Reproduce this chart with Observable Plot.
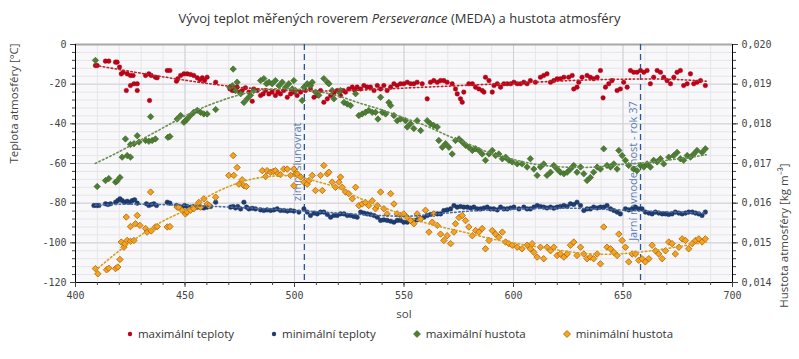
<!DOCTYPE html>
<html><head><meta charset="utf-8">
<script src="https://cdn.jsdelivr.net/npm/d3@7"></script>
<script src="https://cdn.jsdelivr.net/npm/@observablehq/plot@0.6"></script>
<style>
body{margin:0;background:#fff;}
#wrap{position:relative;width:799px;height:359px;overflow:hidden;font-family:"Open Sans",sans-serif;}
#title{position:absolute;top:9px;left:0;width:799px;text-align:center;font-size:13px;color:#333;}
#chart{position:absolute;top:36px;left:0;}
#legend{position:absolute;top:326px;left:0;width:799px;display:flex;justify-content:center;gap:36px;font-size:11.5px;color:#333;}
#legend span{display:flex;align-items:center;gap:4px;}
</style></head>
<body><div id="wrap">
<div id="title">Vývoj teplot měřených roverem <i>Perseverance</i> (MEDA) a hustota atmosféry</div>
<div id="chart"></div>
<div id="legend"></div>
</div>
<script>
// [sol, °C]
const maxTemp = [[409.1,-10.6],[409.9,-10.6],[413.7,-8.4],[415.2,-8.4],[418.3,-8.9],[419,-8.9],[420.1,-11.4],[420.9,-14.8],[421.8,-14],[423.6,-14.8],[425.1,-15.6],[426.3,-15.6],[423.2,-23.2],[425.1,-20.7],[426.7,-19.8],[428.2,-19.8],[428.2,-23.2],[432,-15.6],[433.5,-14.8],[434.6,-15.6],[436.5,-16.5],[437.3,-16.8],[433.8,-28.2],[441.9,-13.1],[443.1,-13.1],[446.1,-18.5],[446.7,-17.3],[448,-15.6],[449.5,-14.8],[451,-14.8],[452.5,-15.1],[454,-15.6],[455.6,-16.8],[456.8,-17.8],[457.9,-16.8],[458.9,-18.2],[460.1,-16.5],[464,-19],[470.5,-22.4],[471.6,-23.2],[472.6,-23.2],[473.8,-21.5],[475,-24],[476.1,-23.2],[477.6,-21.8],[479.2,-24],[480.7,-28.6],[481.4,-22.4],[483,-23.2],[484.5,-25.7],[485.7,-24.9],[486.8,-23.2],[488.3,-24.9],[489.8,-24],[491.3,-25.7],[492.4,-24],[493.6,-24.9],[495.1,-23.2],[496.7,-26.6],[498.2,-24.9],[499.7,-24],[501.2,-25.7],[502.8,-24],[505,-23.2],[507.3,-22.4],[508.9,-26.6],[510.4,-25.7],[511.9,-23.2],[513.4,-29.1],[515,-27.4],[516.5,-25.7],[518,-24.5],[519.5,-23.2],[521,-25.7],[522.2,-23.2],[523.3,-24],[524.8,-22.4],[526.4,-21.5],[527.4,-22.9],[528.6,-21.5],[530.2,-22.4],[531.7,-20.7],[533.2,-21.5],[534.7,-21.5],[536.3,-23.2],[537.8,-20.7],[539.3,-22.4],[540.8,-20.7],[542.3,-23.2],[543.9,-21.5],[545.4,-19.8],[546.9,-20.7],[548.4,-19.8],[549.9,-19.8],[551.5,-19],[553,-19.8],[554.5,-19.8],[556,-19],[558.3,-19.8],[560.6,-27.4],[562.1,-19],[563.6,-18.2],[565.2,-19],[566.7,-18.2],[568.2,-18.2],[569.7,-19],[572,-19.8],[573.5,-22.4],[574.3,-24.9],[575.8,-27.4],[576.6,-29.1],[577.3,-24],[579.6,-19.8],[581.2,-19.8],[582.7,-21.5],[584.2,-22.4],[585.7,-23.2],[586.5,-24],[587.2,-16.5],[588.8,-18.2],[590.3,-24],[591.1,-20.7],[592.6,-19.8],[594.1,-21.5],[595.6,-19.8],[597.1,-19.8],[598.7,-19.8],[600.2,-19],[601.7,-19.8],[603.2,-19.8],[604.7,-19],[606.2,-19.8],[607.7,-18.2],[610,-19],[612.3,-16.5],[613.8,-15.6],[615.3,-14.8],[616.9,-19],[618.4,-18.2],[619.9,-17.3],[621.4,-17.3],[623,-16.5],[625.2,-16.5],[626.8,-15.6],[627.5,-22.4],[629,-21.5],[629.8,-19],[631.3,-16.5],[633.6,-15.6],[635.1,-16.5],[636.6,-17.3],[638.2,-16.5],[639.7,-13.1],[640.9,-26.9],[642,-21.5],[643.5,-19.8],[645,-18.2],[647.3,-23.2],[648.8,-22.4],[650.3,-19],[651.9,-21.5],[653.4,-13.1],[654.9,-14],[656.4,-14],[658,-13.1],[659.5,-14],[661,-13.1],[662.5,-19.8],[664,-16.5],[665.6,-13.1],[667.1,-14],[668.6,-16.5],[670.1,-18.2],[671.7,-19.8],[673.2,-16.5],[674.7,-14],[676.2,-13.1],[677.7,-20.7],[679.3,-19.8],[680.8,-14.8],[682.3,-19.8],[683.8,-19],[685.4,-18.2],[687.6,-20.7]];

const minTemp = [[408.4,-81.2],[409.6,-81.2],[410.7,-81.2],[413.7,-80.3],[414.8,-80.7],[416,-80.3],[418.3,-79.5],[419.3,-78.7],[420.3,-77.8],[421.3,-78.7],[422.4,-79.5],[423.6,-79],[424.8,-79.5],[425.9,-78.7],[427,-78.3],[428.2,-80],[432.4,-80.3],[433.5,-81.2],[434.6,-80.7],[435.8,-80.3],[437,-81.2],[441.9,-79.5],[443.1,-80],[446.1,-81.2],[447.2,-81.7],[448.7,-82],[449.8,-81.2],[451,-81.7],[452.5,-82],[454,-81.7],[455.6,-82],[457.1,-82],[458.6,-82.4],[460.1,-82],[461.7,-81.7],[464,-79.5],[470.8,-82],[472,-81.7],[473.1,-82.4],[474.1,-81.7],[475.4,-82.9],[476.9,-79.5],[478.1,-82],[479.2,-82.9],[480.7,-82.6],[482.2,-82.9],[484.5,-83.4],[486,-83.7],[487.5,-83.4],[489.1,-83.7],[490.6,-83.4],[492.1,-82.9],[493.6,-83.7],[495.2,-83.7],[496.7,-84],[498.2,-83.7],[499.7,-84],[502,-84.5],[504.3,-82.9],[505.8,-84.5],[507.3,-86.2],[508.9,-85],[510.4,-85.4],[511.9,-84.5],[513.4,-84.5],[515,-85.7],[516.5,-87.1],[518,-86.2],[519.5,-86.2],[521,-85.4],[522.6,-85.4],[524.1,-86.2],[525.6,-86.2],[527.1,-86.7],[528.6,-87.1],[530.2,-84.5],[531.7,-85],[533.2,-85.4],[534.7,-85.7],[536.3,-86.2],[537.8,-87.1],[539.3,-88.7],[540.8,-88.4],[542.3,-88.7],[543.9,-89.1],[545.4,-89.6],[546.9,-88.7],[548.4,-88.7],[549.9,-89.6],[551.5,-89.6],[553,-88.7],[554.5,-88.7],[556,-88.4],[557.6,-87.9],[559.1,-87.1],[560.6,-86.2],[562.1,-85.7],[563.6,-85.4],[565.2,-85.4],[566.7,-85.4],[568.2,-83.7],[569.7,-83.4],[571.3,-82.9],[572.8,-81.2],[574.3,-82],[575.8,-81.7],[577.3,-82],[578.9,-82],[580.4,-82.4],[581.9,-82],[583.4,-82.9],[585,-82.9],[586.5,-82.4],[588,-82],[589.5,-82.9],[591,-82.9],[592.6,-83.4],[594.1,-82],[595.6,-82.9],[597.1,-82.9],[598.7,-82.4],[600.2,-82],[602.5,-82.9],[604.7,-82],[606.2,-82.9],[607.7,-82.9],[609.3,-82],[610.8,-81.2],[612.3,-81.7],[613.8,-82],[615.3,-82.4],[616.9,-82],[618.4,-82.5],[619.9,-82],[621.4,-81.7],[623,-81.2],[624.5,-81.7],[626,-80.3],[627.5,-80.7],[629,-79.5],[630.6,-81.2],[632.1,-83.7],[633.6,-82.9],[635.1,-82.9],[636.6,-82],[638.2,-82.4],[639.7,-82],[641.2,-82],[642.7,-81.2],[644.3,-82.9],[645.8,-83.7],[647.3,-84.5],[648.8,-85.4],[651.1,-82.9],[652.6,-83.4],[654.2,-82.9],[655.7,-82],[657.2,-82.9],[658.7,-82.9],[660.2,-84.5],[661.8,-85],[663.3,-85.4],[664.8,-84.5],[666.3,-85],[667.9,-85.4],[669.4,-85.4],[670.9,-85.7],[672.4,-85.4],[673.9,-84.5],[675.5,-85],[677,-85.4],[678.5,-85],[680,-84.5],[681.6,-84.5],[683.1,-85],[684.6,-85.4],[686.1,-86.2],[687.6,-84.5]];

// [sol, kg m^-3]
const maxDens = [[409.1,0.01960],[409.9,0.01642],[413.7,0.01657],[415.2,0.01662],[418.3,0.01653],[419,0.01656],[420.3,0.01665],[421.3,0.01716],[423.6,0.01720],[425.1,0.01716],[422.8,0.01762],[425.1,0.01748],[426.7,0.01750],[428.2,0.01770],[429,0.01754],[432,0.01758],[433.5,0.01756],[435,0.01758],[436.5,0.01762],[434.3,0.01818],[442.2,0.01766],[443.1,0.01768],[446.4,0.01812],[448,0.01821],[449.5,0.01804],[450.2,0.01808],[451,0.01812],[452.5,0.01821],[454,0.01829],[455.6,0.01834],[457.1,0.01829],[458.6,0.01825],[460.1,0.01825],[464,0.01836],[470.5,0.01892],[471.6,0.01896],[472,0.01938],[473.1,0.01884],[473.8,0.01905],[475.4,0.01876],[476.9,0.01854],[478.4,0.01863],[479.9,0.01872],[481.4,0.01884],[484.5,0.01909],[486,0.01914],[487.2,0.01901],[488.3,0.01905],[489.8,0.01901],[491.3,0.01909],[492.9,0.01896],[494.4,0.01905],[495.9,0.01892],[497.4,0.01901],[499,0.01888],[499.7,0.01909],[500.5,0.01884],[503.5,0.01859],[504.3,0.01892],[505.8,0.01901],[507.3,0.01896],[508.1,0.01905],[509.6,0.01880],[511.1,0.01872],[513.4,0.01914],[515,0.01905],[515.7,0.01901],[517.2,0.01884],[518,0.01863],[520.3,0.01880],[521,0.01884],[522.6,0.01854],[524.1,0.01850],[525.6,0.01846],[527.9,0.01876],[529.4,0.01821],[530.9,0.01825],[532.4,0.01829],[533.9,0.01834],[535.5,0.01829],[537,0.01829],[538.1,0.01812],[539.3,0.01867],[540.1,0.01829],[541.6,0.01825],[543.1,0.01854],[543.9,0.01846],[545.4,0.01821],[546.9,0.01808],[548.4,0.01812],[550.7,0.01808],[551.5,0.01792],[553,0.01800],[554.5,0.01788],[556,0.01808],[557.6,0.01783],[560.6,0.01808],[562.1,0.01800],[563.6,0.01796],[565.2,0.01792],[565.9,0.01758],[567.5,0.01741],[569,0.01750],[570.5,0.01741],[572,0.01724],[573.5,0.01758],[575.1,0.01762],[576.6,0.01754],[578.1,0.01746],[579.6,0.01741],[581.2,0.01733],[582.7,0.01737],[584.2,0.01733],[585.7,0.01724],[587.2,0.01708],[588.8,0.01724],[590.3,0.01733],[591.8,0.01720],[593.3,0.01724],[594.9,0.01712],[596.4,0.01716],[597.9,0.01708],[599.4,0.01704],[601.7,0.01699],[603.9,0.01699],[606.2,0.01691],[607.7,0.01712],[609.3,0.01686],[610.8,0.01670],[612.3,0.01691],[613.8,0.01699],[615.3,0.01670],[616.9,0.01678],[618.4,0.01695],[619.9,0.01686],[621.4,0.01678],[623,0.01674],[624.5,0.01678],[626,0.01686],[627.5,0.01695],[629,0.01678],[630.6,0.01691],[632.1,0.01674],[633.6,0.01657],[635.1,0.01665],[636.6,0.01678],[638.2,0.01691],[639.7,0.01686],[641.2,0.01737],[642.7,0.01695],[644.3,0.01691],[645.8,0.01699],[647.3,0.01686],[648.1,0.01733],[649.6,0.01720],[651.1,0.01708],[652.6,0.01695],[654.9,0.01686],[656.4,0.01682],[658,0.01695],[659.5,0.01691],[661,0.01699],[662.5,0.01691],[664,0.01708],[665.6,0.01704],[667.1,0.01712],[668.6,0.01699],[670.9,0.01716],[673.2,0.01720],[674.7,0.01728],[676.2,0.01712],[677.7,0.01708],[679.3,0.01720],[680.8,0.01716],[682.3,0.01724],[683.8,0.01733],[686.1,0.01728],[687.6,0.01737]];

const minDens = [[409.1,0.01435],[410.2,0.01422],[414.2,0.01432],[415.2,0.01436],[418.3,0.01435],[419.3,0.01439],[420.3,0.01458],[420.9,0.01502],[422.1,0.01489],[422.5,0.01498],[423.6,0.01506],[425.1,0.01504],[426.7,0.01506],[423.2,0.01565],[425.1,0.01541],[427.4,0.01548],[428.2,0.01569],[429.4,0.01544],[432,0.01536],[432.7,0.01527],[434.6,0.01530],[436.5,0.01540],[437.3,0.01541],[434.3,0.01628],[441.9,0.01540],[443.1,0.01541],[446.4,0.01590],[447.2,0.01590],[448.7,0.01582],[450.2,0.01573],[451,0.01578],[452.5,0.01582],[454,0.01586],[455.6,0.01594],[456.3,0.01602],[457.1,0.01590],[458.6,0.01611],[460.1,0.01598],[460.9,0.01594],[464,0.01615],[470,0.01670],[472.3,0.01670],[472,0.01720],[473.8,0.01690],[474.6,0.01648],[476.1,0.01659],[476.9,0.01644],[478,0.01642],[485.3,0.01682],[486.8,0.01667],[487.5,0.01682],[489.1,0.01678],[490.3,0.01680],[491.3,0.01682],[492.4,0.01674],[493.6,0.01672],[495.1,0.01686],[496.7,0.01686],[498.2,0.01670],[499.7,0.01686],[500.5,0.01674],[499.7,0.01644],[501.2,0.01674],[502.8,0.01666],[504.3,0.01653],[505.8,0.01648],[506.6,0.01657],[508.1,0.01670],[509.6,0.01632],[511.9,0.01670],[512.7,0.01632],[513.4,0.01695],[515,0.01674],[515.7,0.01678],[517.2,0.01653],[518.7,0.01640],[520.3,0.01653],[521,0.01666],[521.8,0.01640],[523.3,0.01628],[524.8,0.01624],[526.4,0.01611],[527.9,0.01640],[529.4,0.01594],[530.9,0.01598],[532.4,0.01602],[533.9,0.01594],[535.5,0.01606],[537,0.01586],[537.8,0.01594],[539.3,0.01628],[540.8,0.01586],[542.3,0.01573],[543.9,0.01624],[545.4,0.01598],[546.9,0.01573],[548.4,0.01569],[549.9,0.01573],[551.5,0.01564],[553,0.01556],[554.5,0.01548],[556,0.01573],[557.6,0.01560],[559.8,0.01582],[561.4,0.01527],[562.9,0.01552],[563.6,0.01573],[565.2,0.01544],[566.7,0.01522],[568.2,0.01506],[569.7,0.01518],[571.3,0.01498],[572.8,0.01527],[573.5,0.01548],[575.1,0.01564],[576.6,0.01569],[578.1,0.01556],[579.6,0.01540],[581.2,0.01518],[582.7,0.01531],[584.2,0.01527],[585.7,0.01536],[587.2,0.01485],[588.8,0.01506],[590.3,0.01531],[591.8,0.01522],[593.3,0.01514],[594.9,0.01527],[596.4,0.01502],[597.9,0.01498],[599.4,0.01494],[601.7,0.01489],[603.9,0.01485],[606.2,0.01494],[607.7,0.01485],[608.5,0.01498],[609.3,0.01476],[610.8,0.01464],[612.3,0.01489],[613.8,0.01460],[615.3,0.01489],[616.9,0.01480],[618.4,0.01489],[619.9,0.01468],[621.4,0.01472],[623,0.01464],[624.5,0.01472],[626,0.01494],[627.5,0.01502],[629,0.01468],[630.6,0.01489],[632.1,0.01472],[633.6,0.01460],[635.1,0.01464],[636.6,0.01460],[638.2,0.01472],[639.7,0.01447],[641.2,0.01540],[642.7,0.01489],[644.3,0.01485],[645.8,0.01476],[647.3,0.01468],[648.1,0.01522],[649.6,0.01506],[651.1,0.01489],[652.6,0.01452],[654.2,0.01472],[655.7,0.01472],[657.2,0.01456],[658.7,0.01460],[660.2,0.01452],[661.8,0.01460],[663.3,0.01494],[664.8,0.01480],[666.3,0.01472],[667.9,0.01460],[669.4,0.01480],[670.9,0.01502],[672.4,0.01498],[673.9,0.01472],[675.5,0.01489],[677,0.01510],[678.5,0.01506],[680,0.01485],[681.6,0.01498],[683.1,0.01506],[684.6,0.01510],[686.1,0.01502],[687.6,0.01510]];

// trendlines
const maxTempTrend = [[409,-10.5],[430,-14.5],[450,-18],[470,-21],[490,-22.8],[510,-23.5],[530,-23],[550,-22],[570,-21],[590,-20],[610,-19],[630,-18],[650,-17.5],[670,-17.5],[688,-18.5]];
const minTempTrend = [[409,-81],[430,-80.5],[460,-81.5],[490,-83],[520,-85],[545,-86.5],[560,-86],[580,-84],[600,-83],[620,-82.5],[640,-83],[660,-84],[688,-85]];
const maxDensTrend = [[409,0.01700],[420,0.01730],[430,0.01760],[440,0.01790],[450,0.01820],[460,0.01845],[470,0.01865],[480,0.01880],[490,0.01888],[500,0.01888],[510,0.01882],[520,0.01870],[530,0.01852],[540,0.01835],[550,0.01815],[560,0.01795],[570,0.01770],[580,0.01748],[590,0.01725],[600,0.01710],[610,0.01698],[620,0.01692],[630,0.01690],[640,0.01692],[650,0.01698],[660,0.01702],[670,0.01708],[680,0.01715],[688,0.01722]];
const minDensTrend = [[409,0.01430],[420,0.01480],[430,0.01520],[440,0.01555],[450,0.01582],[460,0.01615],[470,0.01642],[480,0.01660],[490,0.01668],[500,0.01668],[510,0.01655],[520,0.01638],[530,0.01612],[545,0.01580],[560,0.01550],[575,0.01530],[590,0.01510],[605,0.01495],[620,0.01482],[636,0.01472],[655,0.01475],[675,0.01490],[688,0.01502]];

const events = [[504.5,"zimní slunovrat",-79],[658,"Jarní rovnodennost - rok 37",-99]];
const seriesNames = ["maximální teploty","minimální teploty","maximální hustota","minimální hustota"];
const xTicks = [400,450,500,550,600,650,700];
const yTicks = [-120,-100,-80,-60,-40,-20,0];

const C = {red:"#c00018", blue:"#1f3d73", green:"#4e7d34", orange:"#f5a41c"};
const d2t = v => (v - 0.020) * 20000;  // density -> position on the temperature scale
const sx = d => d[0];

const mono = "DejaVu Sans Mono, Liberation Mono, monospace";
const sans = "Open Sans, sans-serif";

const chart = Plot.plot({
  width: 799, height: 290,
  marginLeft: 75, marginRight: 67, marginTop: 8, marginBottom: 44,
  x: {domain: [400, 700]},
  y: {domain: [-120, 0]},
  style: {fontFamily: mono, fontSize: "10px", color: "#444", background: "transparent"},
  marks: [
    Plot.frame({fill: "#f8f8fa", stroke: null}),
    Plot.ruleX(d3.range(410, 700, 10), {stroke: "#e6e6ea", strokeWidth: 1}),
    Plot.ruleY(d3.range(-116, 0, 4), {stroke: "#e6e6ea", strokeWidth: 1}),
    Plot.ruleX(xTicks.slice(1, -1), {stroke: "#d0d0d6", strokeWidth: 1}),
    Plot.ruleY(yTicks.slice(1, -1), {stroke: "#d0d0d6", strokeWidth: 1}),
    Plot.ruleY([0], {stroke: "#a8a8a8", strokeWidth: 2}),
    Plot.ruleY([-120], {stroke: "#000"}),
    Plot.ruleX([400], {stroke: "#000"}),
    Plot.ruleX([700], {stroke: "#000"}),
    Plot.axisX({ticks: xTicks, tickSize: 5, tickFormat: d => String(d), label: null, fill: "#444"}),
    Plot.axisX({ticks: d3.range(400, 701, 10), tickSize: 3, tickFormat: () => "", label: null}),
    Plot.axisY({ticks: yTicks, tickSize: 5, tickFormat: d => String(d), label: null, fill: "#444"}),
    Plot.axisY({ticks: d3.range(-120, 1, 4), tickSize: 3, tickFormat: () => "", label: null}),
    Plot.axisY({anchor: "right", ticks: yTicks, tickSize: 5, label: null, fill: "#444",
      tickFormat: t => (0.020 + t / 20000).toFixed(3).replace(".", ",")}),
    Plot.axisY({anchor: "right", ticks: d3.range(-120, 1, 4), tickSize: 3, tickFormat: () => "", label: null}),
    // event lines
    Plot.ruleX(events, {x: d => d[0], stroke: "#2e5597", strokeWidth: 1.3, strokeDasharray: "6,4"}),
    Plot.text(events, {x: d => d[0], y: d => d[2], text: d => d[1], rotate: -90, textAnchor: "start",
      dx: -7, fill: "#5a7db5", fontFamily: sans, fontSize: 11}),
    // points
    Plot.dot(maxTemp, {x: sx, y: d => d[1], r: 2.3, fill: C.red, stroke: "#9a0010", strokeWidth: 0.4}),
    Plot.dot(minTemp, {x: sx, y: d => d[1], r: 2.3, fill: C.blue, stroke: "#142a55", strokeWidth: 0.4}),
    Plot.dot(maxDens, {x: sx, y: d => d2t(d[1]), symbol: "diamond2", r: 2.9, fill: C.green, stroke: "#3a6324", strokeWidth: 0.6}),
    Plot.dot(minDens, {x: sx, y: d => d2t(d[1]), symbol: "diamond2", r: 2.9, fill: C.orange, stroke: "#b0620f", strokeWidth: 0.8}),
    // trendlines
    Plot.line(maxTempTrend, {x: sx, y: d => d[1], curve: "natural", stroke: "#c0202a", strokeWidth: 1.6, strokeDasharray: "1.5,2.5"}),
    Plot.line(minTempTrend, {x: sx, y: d => d[1], curve: "natural", stroke: "#4a6aa0", strokeWidth: 1.6, strokeDasharray: "1.5,2.5"}),
    Plot.line(maxDensTrend, {x: sx, y: d => d2t(d[1]), curve: "natural", stroke: "#6a8f50", strokeWidth: 1.6, strokeDasharray: "1.5,2.5"}),
    Plot.line(minDensTrend, {x: sx, y: d => d2t(d[1]), curve: "natural", stroke: "#d8a020", strokeWidth: 1.6, strokeDasharray: "1.5,2.5"}),
    // axis titles
    Plot.text(["Teplota atmosféry [°C]"], {frameAnchor: "left", dx: -61, rotate: -90, fontFamily: sans, fontSize: 11.5, fill: "#444"}),
    Plot.text(["Hustota atmosféry [kg m⁻³]"], {frameAnchor: "right", dx: 52, rotate: -90, fontFamily: sans, fontSize: 11.5, fill: "#444"}),
    Plot.text(["sol"], {frameAnchor: "bottom", dy: 35, fontFamily: sans, fontSize: 11.5, fill: "#444"})
  ]
});
document.getElementById("chart").appendChild(chart);

// legend
const shapes = [
  `<svg width="8" height="8"><circle cx="4" cy="4" r="2.2" fill="${C.red}"/></svg>`,
  `<svg width="8" height="8"><circle cx="4" cy="4" r="2.2" fill="${C.blue}"/></svg>`,
  `<svg width="10" height="10"><path d="M5 1.5L8.5 5L5 8.5L1.5 5Z" fill="${C.green}" stroke="#3a6324" stroke-width="0.6"/></svg>`,
  `<svg width="10" height="10"><path d="M5 1.5L8.5 5L5 8.5L1.5 5Z" fill="${C.orange}" stroke="#b0620f" stroke-width="0.8"/></svg>`
];
document.getElementById("legend").innerHTML =
  seriesNames.map((n, i) => `<span>${shapes[i]}${n}</span>`).join("");
</script>
</body></html>
